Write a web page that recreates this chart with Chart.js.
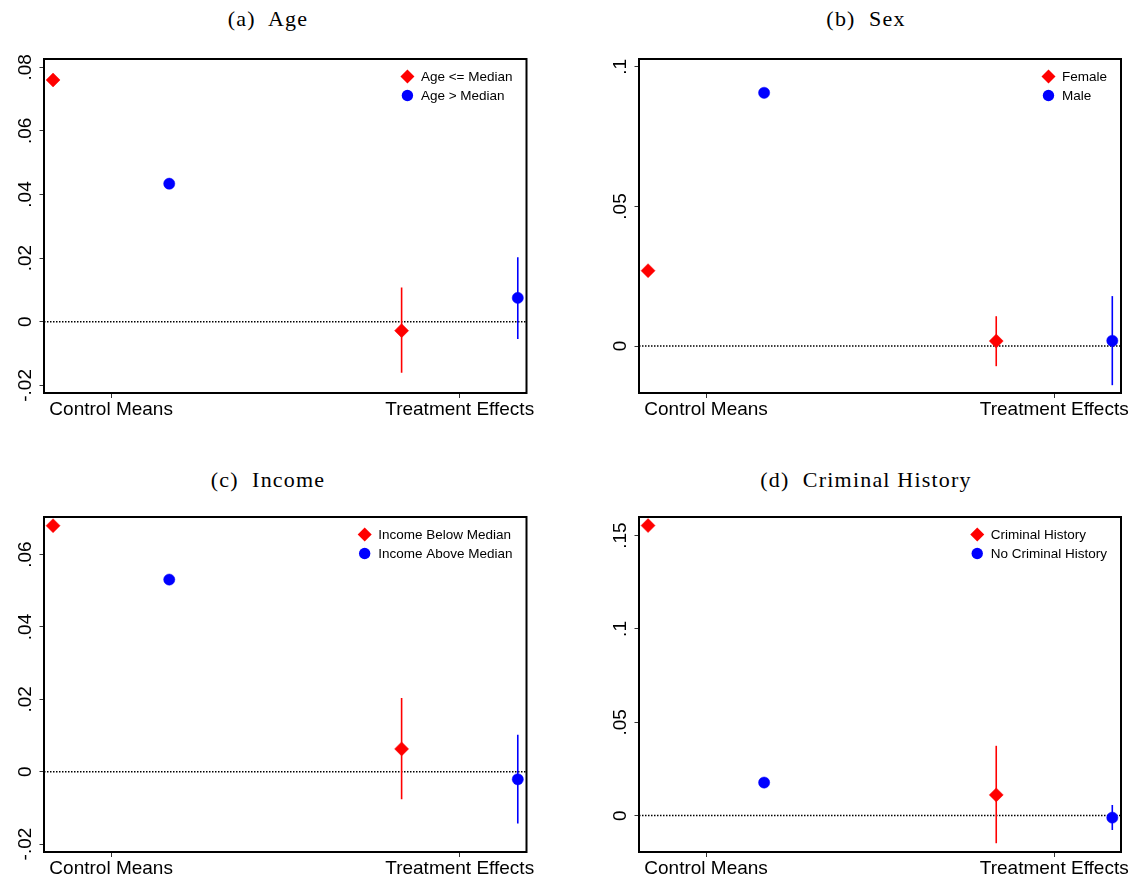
<!DOCTYPE html>
<html lang="en">
<head>
<meta charset="UTF-8">
<title>Control Means and Treatment Effects by Subgroup</title>
<script src="https://cdn.jsdelivr.net/npm/chart.js"></script>
<style>
  body { margin: 0; background: #fff; overflow: hidden; }
  #wrap { position: relative; width: 1137px; height: 879px; }
  .title {
    position: absolute;
    width: 400px;
    text-align: center;
    font-family: "Liberation Serif", "Times New Roman", serif;
    font-size: 22px;
    letter-spacing: 1.2px;
    line-height: 24px;
    color: #000;
    white-space: pre;
  }
  canvas { position: absolute; }
</style>
</head>
<body>
<div id="wrap"></div>

<script>
// ---- data ----
const panelTitles = ['(a)  Age', '(b)  Sex', '(c)  Income', '(d)  Criminal History'];
const groupALabels = ['Age <= Median', 'Female', 'Income Below Median', 'Criminal History'];
const groupBLabels = ['Age > Median', 'Male', 'Income Above Median', 'No Criminal History'];

const xCategories = ['Control Means', 'Treatment Effects'];
const xTickValues = [1, 4];
const xGroupA = [0.5, 3.5];   // control mean, treatment effect
const xGroupB = [1.5, 4.5];

const controlMeanA = [0.0760, 0.0270, 0.0680, 0.1554];
const controlMeanB = [0.0434, 0.0907, 0.0531, 0.0177];
const effectA     = [-0.0028, 0.0018, 0.0063, 0.0111];
const effectALow  = [-0.0160, -0.0072, -0.0076, -0.0148];
const effectAHigh = [0.0108, 0.0107, 0.0204, 0.0374];
const effectB     = [0.0075, 0.0019, -0.0021, -0.0011];
const effectBLow  = [-0.0054, -0.0140, -0.0143, -0.0077];
const effectBHigh = [0.0203, 0.0179, 0.0102, 0.0057];

const yTickValues = [
  [-0.02, 0, 0.02, 0.04, 0.06, 0.08],
  [0, 0.05, 0.1],
  [-0.02, 0, 0.02, 0.04, 0.06],
  [0, 0.05, 0.1, 0.15]
];
const yTickLabels = [
  ['-.02', '0', '.02', '.04', '.06', '.08'],
  ['0', '.05', '.1'],
  ['-.02', '0', '.02', '.04', '.06'],
  ['0', '.05', '.1', '.15']
];
const yMin = [-0.0224, -0.0168, -0.0222, -0.0195];
const yMax = [0.0826, 0.1028, 0.0704, 0.1600];
const xMin = 0.422;
const xMax = 4.575;

// ---- layout (page pixels) ----
const panels = [
  { cx: 0,   cy: 40,  cw: 560, ch: 383, yAxisW: 44, padTop: 19, padRight: 33.5, xAxisH: 30, titleX: 268, titleY: 6.5 },
  { cx: 560, cy: 40,  cw: 577, ch: 383, yAxisW: 79, padTop: 19, padRight: 16,   xAxisH: 30, titleX: 866, titleY: 6.5 },
  { cx: 0,   cy: 479, cw: 560, ch: 400, yAxisW: 44, padTop: 38, padRight: 33.5, xAxisH: 27, titleX: 268, titleY: 467.5 },
  { cx: 560, cy: 479, cw: 577, ch: 400, yAxisW: 79, padTop: 38, padRight: 16,   xAxisH: 27, titleX: 866, titleY: 467.5 }
];

const RED = '#ff0000';
const BLUE = '#0000ff';
const SANS = '"Liberation Sans", Arial, sans-serif';

Chart.defaults.font.family = SANS;
Chart.defaults.color = '#000';

// frame around the plot region
const frame = {
  id: 'frame',
  afterDraw(chart) {
    const a = chart.chartArea, ctx = chart.ctx;
    ctx.save();
    ctx.strokeStyle = '#000';
    ctx.lineWidth = 2;
    ctx.strokeRect(a.left, a.top, a.right - a.left, a.bottom - a.top);
    ctx.restore();
  }
};

// y tick labels turned 90 degrees, like Stata draws them
const rotatedYLabels = {
  id: 'rotatedYLabels',
  afterDraw(chart) {
    const y = chart.scales.y, a = chart.chartArea, ctx = chart.ctx;
    ctx.save();
    ctx.font = '19px ' + SANS;
    ctx.fillStyle = '#000';
    ctx.textAlign = 'center';
    ctx.textBaseline = 'alphabetic';
    y.ticks.forEach(t => {
      const py = y.getPixelForValue(t.value);
      ctx.save();
      ctx.translate(a.left - 13, py);
      ctx.rotate(-Math.PI / 2);
      ctx.fillText(t.label, 0, 0);
      ctx.restore();
    });
    ctx.restore();
  }
};

// legend in the top right corner of the plot region
const insideLegend = {
  id: 'insideLegend',
  afterDatasetsDraw(chart) {
    const a = chart.chartArea, ctx = chart.ctx;
    const items = chart.data.datasets.filter(d => d.label);
    ctx.save();
    ctx.font = '13.5px ' + SANS;
    const textW = Math.max(...items.map(d => ctx.measureText(d.label).width));
    const textX = a.right - 14 - textW;
    const mx = textX - 13.5;
    items.forEach((d, i) => {
      const my = a.top + 17.5 + i * 19;
      ctx.fillStyle = d.pointBackgroundColor;
      ctx.beginPath();
      if (d.pointStyle === 'rectRot') {
        const r = 7;
        ctx.moveTo(mx - r, my);
        ctx.lineTo(mx, my - r);
        ctx.lineTo(mx + r, my);
        ctx.lineTo(mx, my + r);
        ctx.closePath();
      } else {
        ctx.arc(mx, my, 5.7, 0, Math.PI * 2);
      }
      ctx.fill();
      ctx.fillStyle = '#000';
      ctx.textAlign = 'left';
      ctx.textBaseline = 'middle';
      ctx.fillText(d.label, textX, my + 0.5);
    });
    ctx.restore();
  }
};

const wrap = document.getElementById('wrap');

panels.forEach((p, k) => {
  const title = document.createElement('div');
  title.className = 'title';
  title.textContent = panelTitles[k];
  title.style.left = (p.titleX - 200) + 'px';
  title.style.top = p.titleY + 'px';
  wrap.appendChild(title);

  const canvas = document.createElement('canvas');
  canvas.width = p.cw;
  canvas.height = p.ch;
  canvas.style.left = p.cx + 'px';
  canvas.style.top = p.cy + 'px';
  wrap.appendChild(canvas);

  new Chart(canvas.getContext('2d'), {
    type: 'scatter',
    data: {
      datasets: [
        {
          label: groupALabels[k],
          data: [{ x: xGroupA[0], y: controlMeanA[k] }, { x: xGroupA[1], y: effectA[k] }],
          pointStyle: 'rectRot',
          pointRadius: 7,
          pointBackgroundColor: RED,
          pointBorderColor: RED,
          pointBorderWidth: 0.5,
          showLine: false
        },
        {
          label: groupBLabels[k],
          data: [{ x: xGroupB[0], y: controlMeanB[k] }, { x: xGroupB[1], y: effectB[k] }],
          pointStyle: 'circle',
          pointRadius: 5.6,
          pointBackgroundColor: BLUE,
          pointBorderColor: BLUE,
          pointBorderWidth: 0.5,
          showLine: false
        },
        {
          type: 'line',
          data: [{ x: xGroupA[1], y: effectALow[k] }, { x: xGroupA[1], y: effectAHigh[k] }],
          borderColor: RED,
          borderWidth: 1.6,
          pointRadius: 0
        },
        {
          type: 'line',
          data: [{ x: xGroupB[1], y: effectBLow[k] }, { x: xGroupB[1], y: effectBHigh[k] }],
          borderColor: BLUE,
          borderWidth: 1.6,
          pointRadius: 0
        },
        {
          type: 'line',
          data: [{ x: xMin, y: 0 }, { x: xMax, y: 0 }],
          borderColor: '#000',
          borderWidth: 1.5,
          borderDash: [1.5, 1.5],
          pointRadius: 0
        }
      ]
    },
    options: {
      responsive: false,
      animation: false,
      layout: { padding: { top: p.padTop, right: p.padRight, left: 0, bottom: 0 } },
      plugins: {
        legend: { display: false },
        tooltip: { enabled: false }
      },
      scales: {
        x: {
          type: 'linear',
          min: xMin,
          max: xMax,
          afterBuildTicks: s => { s.ticks = xTickValues.map(v => ({ value: v })); },
          afterFit: s => { s.height = p.xAxisH; },
          border: { display: false },
          grid: { drawOnChartArea: false, drawTicks: true, tickLength: 5, color: '#333', lineWidth: 1 },
          ticks: {
            autoSkip: false,
            maxRotation: 0,
            padding: 0,
            font: { size: 19, family: SANS },
            color: '#000',
            callback: v => xCategories[xTickValues.indexOf(v)]
          }
        },
        y: {
          min: yMin[k],
          max: yMax[k],
          afterBuildTicks: s => { s.ticks = yTickValues[k].map(v => ({ value: v })); },
          afterFit: s => { s.width = p.yAxisW; },
          border: { display: false },
          grid: { drawOnChartArea: false, drawTicks: true, tickLength: 4.5, color: '#333', lineWidth: 1 },
          ticks: {
            display: false,
            callback: v => yTickLabels[k][yTickValues[k].indexOf(v)]
          }
        }
      }
    },
    plugins: [frame, rotatedYLabels, insideLegend]
  });
});
</script>
</body>
</html>
